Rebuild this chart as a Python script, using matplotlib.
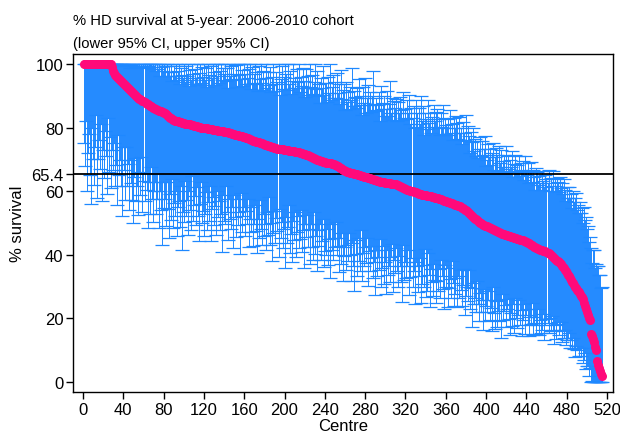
import numpy as np
import matplotlib
matplotlib.use('Agg')
import matplotlib.pyplot as plt

# % survival per centre, sorted high to low
survival = [
    100, 100, 100, 100, 100, 100, 100, 100, 100, 100,
    100, 100, 100, 100, 100, 100, 100, 100, 100, 100,
    100, 100, 100, 100, 100, 100, 100, 100, 99.0, 97.8,
    97.0, 96.5, 96.2, 95.8, 95.5, 95.2, 94.9, 94.6, 94.3, 94.0,
    93.6, 93.3, 93.0, 92.7, 92.4, 92.1, 91.8, 91.5, 91.2, 90.9,
    90.6, 90.3, 90.0, 89.7, 89.4, 89.1, 88.9, 88.6, 88.4, 88.2,
    87.9, 87.7, 87.5, 87.3, 87.0, 86.8, 86.6, 86.4, 86.2, 86.0,
    85.8, 85.7, 85.5, 85.4, 85.3, 85.2, 85.1, 85.0, 84.9, 84.7,
    84.4, 84.1, 83.8, 83.5, 83.3, 83.1, 82.9, 82.7, 82.5, 82.3,
    82.1, 82.0, 82.0, 81.9, 81.8, 81.7, 81.6, 81.5, 81.4, 81.3,
    81.2, 81.2, 81.1, 81.1, 81.0, 81.0, 80.9, 80.8, 80.7, 80.6,
    80.5, 80.5, 80.4, 80.3, 80.2, 80.1, 80.0, 79.9, 79.9, 79.8,
    79.8, 79.7, 79.7, 79.6, 79.6, 79.5, 79.4, 79.4, 79.3, 79.3,
    79.2, 79.2, 79.1, 79.0, 79.0, 78.9, 78.9, 78.8, 78.8, 78.7,
    78.7, 78.6, 78.6, 78.5, 78.4, 78.3, 78.2, 78.1, 78.0, 77.9,
    77.8, 77.7, 77.6, 77.5, 77.4, 77.4, 77.3, 77.2, 77.1, 77.0,
    76.9, 76.8, 76.7, 76.6, 76.5, 76.3, 76.2, 76.0, 75.9, 75.8,
    75.7, 75.6, 75.5, 75.4, 75.3, 75.2, 75.1, 75.0, 74.9, 74.8,
    74.6, 74.5, 74.4, 74.3, 74.2, 74.1, 74.0, 73.9, 73.8, 73.7,
    73.6, 73.5, 73.4, 73.3, 73.3, 73.2, 73.2, 73.1, 73.0, 72.9,
    72.9, 72.8, 72.8, 72.7, 72.7, 72.6, 72.6, 72.5, 72.5, 72.4,
    72.4, 72.3, 72.3, 72.2, 72.1, 72.0, 71.9, 71.8, 71.7, 71.6,
    71.5, 71.4, 71.3, 71.1, 71.0, 70.8, 70.6, 70.5, 70.3, 70.1,
    70.0, 69.9, 69.8, 69.7, 69.6, 69.5, 69.4, 69.3, 69.2, 69.1,
    69.0, 69.0, 68.9, 68.9, 68.8, 68.7, 68.6, 68.5, 68.4, 68.3,
    68.2, 68.0, 67.8, 67.6, 67.4, 67.2, 67.0, 66.8, 66.6, 66.4,
    66.2, 66.1, 66.0, 65.9, 65.8, 65.7, 65.6, 65.6, 65.5, 65.5,
    65.4, 65.3, 65.2, 65.1, 65.0, 64.9, 64.8, 64.7, 64.6, 64.5,
    64.4, 64.3, 64.2, 64.1, 64.0, 63.9, 63.8, 63.7, 63.6, 63.5,
    63.4, 63.3, 63.2, 63.1, 63.0, 62.9, 62.9, 62.8, 62.8, 62.7,
    62.7, 62.6, 62.6, 62.5, 62.5, 62.4, 62.4, 62.3, 62.3, 62.2,
    62.1, 62.0, 61.9, 61.7, 61.6, 61.4, 61.3, 61.1, 61.0, 60.8,
    60.7, 60.5, 60.4, 60.3, 60.1, 60.0, 59.9, 59.8, 59.7, 59.6,
    59.4, 59.3, 59.2, 59.1, 59.0, 58.9, 58.8, 58.8, 58.7, 58.7,
    58.6, 58.6, 58.5, 58.5, 58.4, 58.3, 58.2, 58.1, 58.0, 57.9,
    57.8, 57.7, 57.6, 57.5, 57.4, 57.2, 57.1, 57.0, 56.9, 56.8,
    56.7, 56.6, 56.5, 56.4, 56.3, 56.2, 56.0, 55.9, 55.8, 55.6,
    55.5, 55.4, 55.3, 55.2, 55.0, 54.8, 54.6, 54.4, 54.2, 54.0,
    53.8, 53.5, 53.2, 52.9, 52.6, 52.3, 52.0, 51.7, 51.4, 51.1,
    50.8, 50.5, 50.3, 50.1, 49.9, 49.7, 49.5, 49.3, 49.2, 49.0,
    48.9, 48.7, 48.6, 48.4, 48.3, 48.1, 48.0, 47.8, 47.7, 47.5,
    47.4, 47.2, 47.1, 46.9, 46.8, 46.6, 46.5, 46.4, 46.3, 46.2,
    46.1, 46.0, 45.9, 45.8, 45.7, 45.6, 45.5, 45.4, 45.3, 45.2,
    45.1, 45.0, 44.9, 44.8, 44.7, 44.6, 44.5, 44.4, 44.2, 44.1,
    44.0, 43.8, 43.6, 43.4, 43.2, 43.0, 42.8, 42.6, 42.4, 42.2,
    42.0, 41.9, 41.7, 41.6, 41.5, 41.4, 41.3, 41.2, 41.1, 40.9,
    40.7, 40.5, 40.2, 40.0, 39.7, 39.4, 39.1, 38.8, 38.5, 38.2,
    37.9, 37.7, 37.4, 37.0, 36.6, 36.2, 35.8, 35.3, 34.8, 34.3,
    33.8, 33.3, 32.8, 32.2, 31.6, 31.0, 30.5, 30.0, 29.5, 29.0,
    28.6, 28.2, 27.7, 27.2, 26.6, 26.0, 25.0, 24.0, 23.0, 22.0,
    21.0, 20.0, 19.5, 15.0, 14.5, 13.5, 12.5, 11.0, 10.0, 6.5,
    5.5, 4.5, 3.5, 2.5, 2.0,
]

# distance from survival down to lower 95% CI
err_lower = [
    25, 32, 18, 40, 28, 22, 35, 44, 20, 30,
    38, 26, 16, 42, 30, 24, 33, 19, 43, 27,
    36, 21, 29, 41, 17, 34, 23, 39, 26, 31,
    22, 35, 28, 40, 18, 30, 25, 33, 42, 20,
    27, 36, 19, 31, 24, 38, 22, 29, 34, 41,
    26, 20, 33, 28, 37, 23, 30, 18, 35, 25,
    31, 22, 27, 39, 24, 34, 19, 29, 36, 26,
    23, 33, 28, 20, 37, 25, 31, 42, 22, 30,
    27, 35, 21, 29, 38, 24, 32, 19, 34, 26,
    30, 22, 36, 27, 25, 33, 20, 40, 28, 31,
    18, 29, 24, 35, 21, 27, 33, 16, 30, 25,
    22, 31, 19, 28, 36, 24, 17, 30, 26, 34,
    27, 20, 32, 23, 29, 18, 35, 25, 21, 30,
    24, 33, 19, 27, 22, 31, 26, 38, 20, 28,
    29, 17, 25, 34, 21, 27, 30, 23, 36, 19,
    26, 32, 20, 28, 24, 37, 18, 30, 25, 22,
    31, 23, 27, 19, 34, 25, 29, 21, 33, 26,
    20, 28, 35, 24, 30, 18, 27, 32, 22, 29,
    25, 33, 21, 28, 16, 31, 24, 36, 27, 20,
    30, 22, 26, 34, 19, 28, 23, 31, 25, 37,
    21, 29, 24, 17, 32, 26, 35, 22, 28, 19,
    33, 25, 20, 30, 27, 18, 31, 24, 36, 22,
    26, 19, 29, 23, 34, 21, 28, 32, 17, 30,
    24, 35, 22, 27, 20, 31, 25, 18, 33, 28,
    29, 21, 32, 24, 36, 19, 27, 30, 23, 26,
    18, 28, 25, 33, 22, 30, 20, 35, 27, 24,
    31, 23, 28, 19, 26, 34, 22, 29, 37, 21,
    25, 32, 20, 27, 30, 17, 33, 24, 28, 22,
    27, 19, 34, 23, 29, 25, 21, 31, 26, 36,
    22, 30, 24, 28, 18, 33, 27, 20, 32, 25,
    35, 21, 29, 26, 31, 23, 19, 34, 24, 28,
    20, 27, 32, 22, 25, 30, 36, 18, 29, 23,
    28, 24, 19, 33, 27, 21, 30, 25, 35, 22,
    23, 31, 26, 20, 34, 28, 22, 29, 17, 32,
    30, 18, 25, 35, 23, 27, 31, 21, 26, 33,
    26, 29, 22, 31, 19, 24, 28, 34, 20, 27,
    21, 33, 27, 24, 30, 18, 25, 32, 28, 23,
    32, 22, 29, 20, 26, 31, 24, 19, 33, 27,
    24, 28, 18, 30, 23, 35, 21, 27, 25, 29,
    19, 26, 31, 22, 28, 24, 33, 20, 30, 25,
    27, 23, 20, 29, 25, 32, 18, 26, 31, 22,
    30, 25, 28, 21, 33, 19, 27, 24, 22, 29,
    23, 20, 26, 31, 24, 28, 21, 30, 19, 25,
    28, 24, 19, 27, 22, 30, 25, 20, 29, 23,
    21, 26, 29, 23, 25, 18, 28, 24, 22, 27,
    24, 19, 27, 22, 26, 25, 20, 28, 23, 21,
    22, 25, 20, 24, 19, 23, 27, 21, 25, 20,
    19, 23, 21, 18, 24, 20, 22, 19, 23, 21,
    20, 18, 22, 19, 21, 17, 20, 22, 18, 19,
    18, 20, 17, 19, 16, 20, 18, 15, 19, 17,
    16, 18, 15, 17, 14, 16, 13, 15, 12, 11,
    9, 8, 6, 5, 4,
]

# distance from survival up to upper 95% CI
err_upper = [
    0, 0, 0, 0, 0, 0, 0, 0, 0, 0,
    0, 0, 0, 0, 0, 0, 0, 0, 0, 0,
    0, 0, 0, 0, 0, 0, 0, 0, 1, 2,
    3, 4, 4, 5, 4, 5, 5, 6, 6, 6,
    7, 6, 7, 7, 8, 8, 7, 8, 9, 9,
    8, 10, 9, 11, 10, 11, 10, 12, 11, 12,
    14, 11, 13, 12, 14, 13, 15, 12, 14, 13,
    14, 12, 15, 13, 16, 11, 14, 15, 13, 16,
    15, 12, 17, 14, 16, 13, 18, 12, 15, 17,
    14, 19, 13, 16, 18, 12, 17, 15, 14, 19,
    13, 18, 15, 20, 12, 17, 14, 19, 16, 13,
    18, 15, 21, 13, 17, 20, 14, 19, 16, 22,
    15, 19, 13, 22, 17, 14, 20, 16, 23, 18,
    14, 21, 17, 24, 15, 19, 22, 16, 20, 18,
    23, 16, 20, 14, 25, 18, 21, 17, 24, 19,
    17, 22, 15, 26, 19, 23, 18, 21, 16, 25,
    20, 17, 24, 19, 22, 27, 16, 23, 18, 21,
    25, 18, 22, 16, 24, 20, 28, 19, 23, 17,
    21, 26, 18, 23, 19, 25, 17, 22, 27, 20,
    18, 24, 21, 27, 17, 22, 26, 19, 23, 28,
    24, 19, 28, 21, 25, 18, 22, 29, 20, 23,
    20, 26, 22, 30, 19, 24, 21, 27, 23, 18,
    27, 21, 25, 19, 29, 22, 26, 20, 24, 31,
    22, 28, 20, 24, 18, 26, 23, 30, 21, 25,
    25, 19, 27, 22, 32, 20, 24, 28, 21, 26,
    21, 29, 23, 26, 20, 31, 22, 25, 27, 19,
    28, 22, 25, 20, 27, 23, 33, 21, 26, 24,
    24, 27, 21, 30, 22, 25, 19, 28, 23, 31,
    20, 25, 29, 23, 27, 21, 26, 34, 22, 24,
    26, 22, 24, 28, 19, 30, 23, 25, 27, 21,
    23, 29, 21, 25, 32, 22, 27, 20, 26, 24,
    27, 20, 26, 23, 28, 24, 21, 30, 22, 25,
    22, 28, 24, 30, 21, 26, 23, 27, 20, 29,
    25, 21, 27, 22, 31, 23, 28, 19, 26, 24,
    21, 30, 23, 26, 20, 25, 22, 29, 24, 27,
    28, 22, 25, 20, 27, 23, 30, 21, 26, 24,
    23, 26, 21, 29, 22, 25, 20, 27, 24, 28,
    26, 21, 28, 23, 25, 20, 27, 24, 22, 30,
    22, 27, 24, 19, 26, 23, 28, 21, 25, 20,
    25, 20, 23, 27, 21, 26, 22, 24, 28, 19,
    21, 26, 22, 25, 20, 24, 27, 19, 23, 26,
    24, 19, 27, 22, 26, 21, 23, 25, 20, 28,
    20, 25, 21, 24, 22, 27, 19, 23, 26, 21,
    23, 21, 26, 20, 24, 22, 25, 19, 27, 22,
    21, 25, 19, 23, 26, 20, 24, 22, 18, 25,
    24, 20, 23, 21, 19, 25, 22, 20, 24, 23,
    22, 26, 20, 24, 22, 27, 21, 25, 23, 26,
    25, 22, 27, 24, 26, 23, 28, 25, 22, 27,
    24, 28, 25, 27, 23, 29, 26, 28, 30, 25,
    27, 25, 29, 26, 28, 24, 30, 27, 29, 26,
    28, 24, 26, 27, 23, 28, 29, 25, 27, 30,
    31, 29, 30, 27, 28,
]

national = 65.4
x_ticks = list(range(0, 521, 40))
y_ticks = [0, 20, 40, 60, 65.4, 80, 100]
y_ticklabels = ['0', '20', '40', '60', '65.4', '80', '100']

plt.rcParams['font.family'] = ['Liberation Sans', 'DejaVu Sans']

s = np.array(survival, dtype=float)
centre = np.arange(1, len(s) + 1)
lower = np.maximum(0, s - np.array(err_lower))
upper = np.minimum(100, s + np.array(err_upper))

fig = plt.figure(figsize=(6.2, 4.35), dpi=100)
ax = fig.add_axes([0.1177, 0.0966, 0.871, 0.777])

ax.errorbar(centre, s, yerr=[s - lower, upper - s], fmt='none',
            ecolor='#1E88FF', elinewidth=0.7, capsize=5, capthick=0.9, zorder=2)
ax.axhline(national, color='black', lw=1.3, zorder=3)
ax.plot(centre, s, 'o', color='#FF0A7A', ms=6.5, mec='none', zorder=4)

ax.set_xlim(-10, 526)
ax.set_ylim(-3.1, 103.1)
ax.set_xticks(x_ticks)
ax.set_yticks(y_ticks)
ax.set_yticklabels(y_ticklabels)
ax.tick_params(labelsize=12, length=5, width=1, direction='out', pad=2)
for sp in ax.spines.values():
    sp.set_linewidth(1.0)

ax.set_xlabel('Centre', fontsize=12, labelpad=1)
ax.set_ylabel('% survival', fontsize=12, labelpad=4)

fig.text(0.1177, 0.952, '% HD survival at 5-year: 2006-2010 cohort', fontsize=10.6, va='center')
fig.text(0.1177, 0.898, '(lower 95% CI, upper 95% CI)', fontsize=10.6, va='center')

fig.savefig('out.png', dpi=100)
